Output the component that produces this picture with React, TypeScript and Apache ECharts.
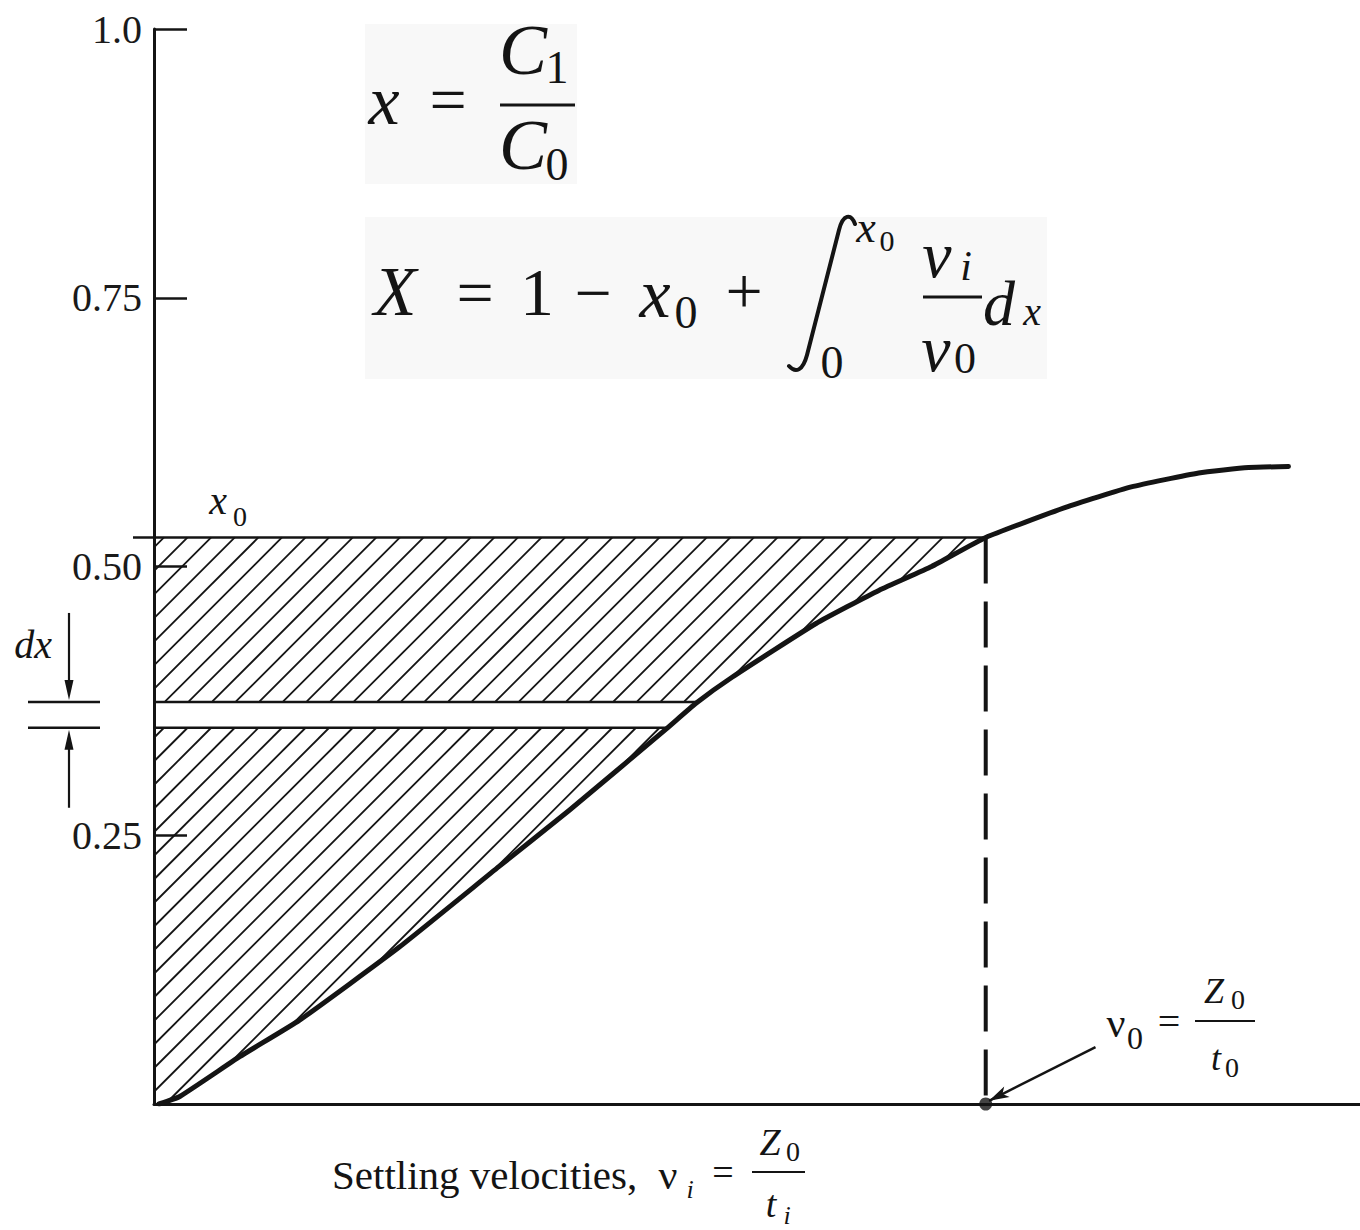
import { useEffect, useRef } from "react";
import * as echarts from "echarts";

// Cumulative fraction x of particles whose settling velocity is below v (v in units of v0)
const curveV = [0.006, 0.031, 0.103, 0.175, 0.295, 0.415, 0.499, 0.616, 0.652, 0.695, 0.796, 0.872, 0.935, 1.0, 1.096, 1.175, 1.256, 1.316, 1.364];
const curveX = [0.0, 0.007, 0.044, 0.078, 0.146, 0.221, 0.273, 0.349, 0.373, 0.397, 0.447, 0.478, 0.5, 0.527, 0.555, 0.574, 0.587, 0.592, 0.593];

const v0 = 1.0;
const x0 = 0.527;
const dxBottom = 0.35;
const dxTop = 0.374;
// hatched bands [lower x, upper x] between the y axis and the curve
const hatchBands = [
  [0, dxBottom],
  [dxTop, x0],
];
const yTicks = [0.25, 0.5, 0.75, 1.0];
const yTickLabels = ["0.25", "0.50", "0.75", "1.0"];
const vAxisMax = 1.45;
const v0Arrow = [
  [1.132, 0.053],
  [1.004, 0.003],
];

const SERIF = "Liberation Serif";
const INK = "#141414";

let integralRegistered = false;
function registerIntegral() {
  if (integralRegistered) return;
  echarts.graphic.registerShape(
    "integralSign",
    echarts.graphic.extendPath(
      "M 855 224 C 851 213 843 214 839 230 L 807 355 C 803 370 796 374 789 366",
      {}
    )
  );
  integralRegistered = true;
}

function txt(text: string, x: number, y: number, size: number, italic = false, align = "center") {
  return {
    type: "text",
    x,
    y,
    silent: true,
    z: 20,
    style: {
      text,
      fill: INK,
      fontFamily: SERIF,
      fontSize: size,
      fontStyle: italic ? "italic" : "normal",
      align,
      verticalAlign: "middle",
      textAlign: align,
      textVerticalAlign: "middle",
    },
  };
}

function bar(x1: number, x2: number, y: number, w = 3) {
  return {
    type: "line",
    silent: true,
    z: 20,
    shape: { x1, y1: y, x2, y2: y },
    style: { stroke: INK, lineWidth: w },
  };
}

function curveXAtPixel(pts: number[][], py: number) {
  if (py >= pts[0][1]) return pts[0][0];
  for (let i = 1; i < pts.length; i++) {
    const a = pts[i - 1];
    const b = pts[i];
    if (py >= b[1]) {
      const t = (a[1] - py) / (a[1] - b[1]);
      return a[0] + t * (b[0] - a[0]);
    }
  }
  return pts[pts.length - 1][0];
}

function seg(x1: number, y1: number, x2: number, y2: number, w: number) {
  return { type: "line", shape: { x1, y1, x2, y2 }, style: { stroke: INK, lineWidth: w, lineCap: "butt" } };
}

// 45-degree hatching of one band, clipped to the y axis and the curve
function renderHatch(params: any, api: any) {
  const yLow = api.value(0);
  const yHigh = api.value(1);
  const pts = curveV.map((v, i) => api.coord([v, curveX[i]]));
  const base = api.coord([0, yLow]);
  const xa = base[0];
  const pBot = base[1];
  const pTop = api.coord([0, yHigh])[1];
  const edge = (py: number) => curveXAtPixel(pts, py);
  const children: any[] = [];
  const step = 23.6;
  const cMin = xa + pTop;
  const cMax = edge(pTop) + pTop;
  for (let c = cMin + 10; c <= cMax; c += step) {
    let lo: number | null = null;
    let hi = 0;
    for (let py = pTop; py <= pBot + 0.01; py += 0.5) {
      const px = c - py;
      if (px >= xa && px <= edge(py)) {
        if (lo === null) lo = py;
        hi = py;
      }
    }
    if (lo !== null && hi - lo > 1) children.push(seg(c - lo, lo, c - hi, hi, 1.8));
  }
  const ext = yHigh === x0 ? 21 : 0;
  children.push(seg(xa - ext, pTop, edge(pTop), pTop, 2.6));
  if (yLow > 0) children.push(seg(xa, pBot, edge(pBot), pBot, 2.6));
  return { type: "group", children };
}

// dx strip markers and the x0 label beside the axis
function renderDx(params: any, api: any) {
  const pLow = api.coord([0, api.value(0)])[1];
  const pHigh = api.coord([0, api.value(1)])[1];
  const xa = api.coord([0, 0])[0];
  const px0 = api.coord([0, x0])[1];
  const ax = xa - 85;
  const children: any[] = [
    seg(xa - 126, pHigh, xa - 54, pHigh, 2.4),
    seg(xa - 126, pLow, xa - 54, pLow, 2.4),
    seg(ax, pHigh - 89, ax, pHigh - 14, 2.2),
    {
      type: "polygon",
      shape: { points: [[ax - 4.5, pHigh - 22], [ax + 4.5, pHigh - 22], [ax, pHigh - 2]] },
      style: { fill: INK },
    },
    seg(ax, pLow + 80, ax, pLow + 14, 2.2),
    {
      type: "polygon",
      shape: { points: [[ax - 4.5, pLow + 22], [ax + 4.5, pLow + 22], [ax, pLow + 2]] },
      style: { fill: INK },
    },
    txt("dx", xa - 121, pHigh - 57, 40, true),
    txt("x", xa + 64, px0 - 37, 40, true),
    txt("0", xa + 86, px0 - 21, 28),
  ];
  return { type: "group", children };
}

export default function App() {
  const ref = useRef<HTMLDivElement>(null);

  useEffect(() => {
    if (!ref.current) return;
    registerIntegral();
    const chart = echarts.init(ref.current, undefined, { renderer: "svg" });

    const graphic: any[] = [
      // formula panels
      { type: "rect", silent: true, z: 1, shape: { x: 365, y: 24, width: 212, height: 160 }, style: { fill: "#f8f8f8" } },
      { type: "rect", silent: true, z: 1, shape: { x: 365, y: 217, width: 682, height: 162 }, style: { fill: "#f8f8f8" } },
      // x = C1 / C0
      txt("x", 384, 100, 70, true),
      txt("=", 448, 99, 66),
      bar(500, 575, 105),
      txt("C", 523, 50, 72, true),
      txt("1", 557, 67, 46),
      txt("C", 523, 145, 72, true),
      txt("0", 557, 164, 46),
      // X = 1 - x0 + integral
      txt("X", 395, 291, 70, true),
      txt("=", 475, 292, 66),
      txt("1", 537, 292, 68),
      txt("\u2212", 593, 292, 66),
      txt("x", 655, 293, 70, true),
      txt("0", 686, 312, 46),
      txt("+", 744, 290, 66),
      {
        type: "integralSign",
        silent: true,
        z: 20,
        style: { fill: "none", stroke: INK, lineWidth: 4, lineCap: "round" },
      },
      txt("x", 866, 227, 44, true),
      txt("0", 887, 240, 30),
      txt("0", 832, 362, 46),
      txt("v", 937, 254, 66, true),
      txt("i", 966, 266, 42, true),
      bar(923, 982, 297),
      txt("v", 936, 348, 66, true),
      txt("0", 965, 358, 44),
      txt("d", 999, 303, 64, true),
      txt("x", 1032, 311, 40, true),
      // v0 = Z0 / t0
      txt("\u03bd", 1116, 1023, 42),
      txt("0", 1135, 1038, 32),
      txt("=", 1169, 1021, 40),
      bar(1195, 1255, 1021, 2),
      txt("Z", 1214, 991, 36, true),
      txt("0", 1238, 999, 28),
      txt("t", 1216, 1058, 36, true),
      txt("0", 1232, 1067, 28),
      // axis title
      txt("Settling velocities,", 332, 1175, 41, false, "left"),
      txt("\u03bd", 668, 1175, 42),
      txt("i", 690, 1189, 26, true),
      txt("=", 723, 1172, 38),
      bar(752, 805, 1172, 2),
      txt("Z", 770, 1142, 38, true),
      txt("0", 793, 1151, 28),
      txt("t", 771, 1204, 38, true),
      txt("i", 787, 1215, 26, true),
    ];

    const option: any = {
      animation: false,
      backgroundColor: "#ffffff",
      grid: { left: 154, right: 0, top: 29, bottom: 126 },
      xAxis: {
        type: "value",
        min: 0,
        max: vAxisMax,
        axisLine: { show: true, onZero: false, lineStyle: { color: INK, width: 3 } },
        axisTick: { show: false },
        axisLabel: { show: false },
        splitLine: { show: false },
      },
      yAxis: {
        type: "value",
        min: 0,
        max: 1,
        interval: 0.25,
        axisLine: { show: true, onZero: false, lineStyle: { color: INK, width: 3 } },
        axisTick: { show: true, inside: true, length: 33, lineStyle: { color: INK, width: 2.5 } },
        axisLabel: {
          margin: 12,
          fontFamily: SERIF,
          fontSize: 40,
          color: "#1a1a1a",
          formatter: (v: number) => {
            const i = yTicks.findIndex((t) => Math.abs(t - v) < 1e-6);
            return i >= 0 ? yTickLabels[i] : "";
          },
        },
        splitLine: { show: false },
      },
      series: [
        {
          type: "custom",
          name: "hatch",
          coordinateSystem: "cartesian2d",
          silent: true,
          renderItem: renderHatch,
          data: hatchBands,
          z: 2,
        },
        {
          type: "custom",
          name: "dx",
          coordinateSystem: "cartesian2d",
          silent: true,
          renderItem: renderDx,
          data: [[dxBottom, dxTop]],
          z: 3,
        },
        {
          type: "line",
          name: "v0 drop",
          data: [
            [v0, x0],
            [v0, 0],
          ],
          showSymbol: false,
          silent: true,
          lineStyle: { color: INK, width: 4, type: [46, 18] },
          z: 4,
        },
        {
          type: "line",
          name: "curve",
          data: curveV.map((v, i) => [v, curveX[i]]),
          smooth: 0.15,
          showSymbol: false,
          silent: true,
          lineStyle: { color: INK, width: 5, cap: "round", join: "round" },
          z: 5,
        },
        {
          type: "scatter",
          name: "v0",
          data: [[v0, 0]],
          symbolSize: 13,
          silent: true,
          itemStyle: { color: INK },
          z: 6,
          markLine: {
            silent: true,
            symbol: ["none", "arrow"],
            symbolSize: [9, 20],
            label: { show: false },
            lineStyle: { color: INK, width: 2.5, type: "solid" },
            data: [[{ coord: v0Arrow[0] }, { coord: v0Arrow[1] }]],
          },
        },
      ],
      graphic,
    };

    chart.setOption(option);
    return () => chart.dispose();
  }, []);

  return (
    <div
      ref={ref}
      style={{ position: "absolute", left: 0, top: 0, width: 1360, height: 1230, background: "#fff" }}
    />
  );
}
